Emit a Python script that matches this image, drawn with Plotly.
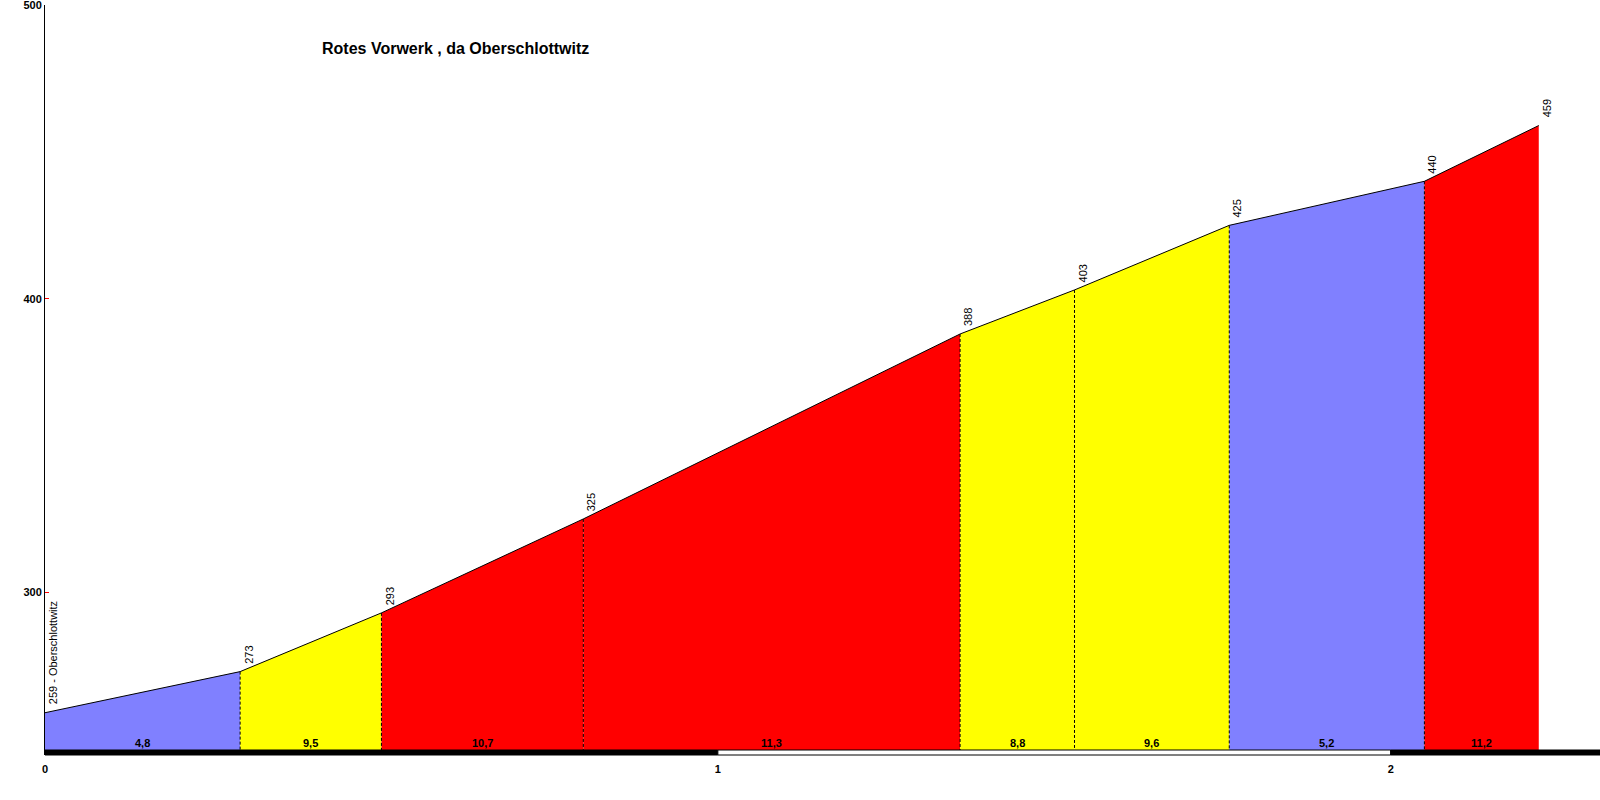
import plotly.graph_objects as go
import math

# ---- data ----
title_text = "Rotes Vorwerk , da Oberschlottwitz"
start_name = "Oberschlottwitz"
dist_km = [0.0, 0.29, 0.50, 0.80, 1.36, 1.53, 1.76, 2.05, 2.22]
elev_m = [259, 273, 293, 325, 388, 403, 425, 440, 459]
grad_labels = ["4,8", "9,5", "10,7", "11,3", "8,8", "9,6", "5,2", "11,2"]
x_ticks = [0, 1, 2]
y_ticks = [300, 400, 500]

# ---- styling / layout constants ----
X_MAX = 2.311
Y_MIN, Y_MAX = 244.6, 500.05
BASE = 246.3
FONT = "Liberation Sans, Arial, sans-serif"


def grad_color(g):
    v = float(g.replace(",", "."))
    if v < 7:
        return "#8080FF"
    if v < 10:
        return "#FFFF00"
    return "#FF0000"


fig = go.Figure()

# coloured segments
for i in range(len(dist_km) - 1):
    x0, x1 = dist_km[i], dist_km[i + 1]
    y0, y1 = elev_m[i], elev_m[i + 1]
    fig.add_trace(go.Scatter(
        x=[x0, x1, x1, x0, x0], y=[y0, y1, BASE, BASE, y0],
        mode="lines", fill="toself", fillcolor=grad_color(grad_labels[i]),
        line=dict(width=0), hoverinfo="skip", showlegend=False))

# profile line
fig.add_trace(go.Scatter(x=dist_km, y=elev_m, mode="lines",
                         line=dict(color="black", width=1),
                         hoverinfo="skip", showlegend=False))

# dashed separators
for i in range(1, len(dist_km) - 1):
    fig.add_trace(go.Scatter(x=[dist_km[i], dist_km[i]], y=[elev_m[i], BASE],
                             mode="lines", line=dict(color="black", width=1, dash="3px,2px"),
                             hoverinfo="skip", showlegend=False))

# distance scale bar
bar_h = 5 / 750
n = math.ceil(X_MAX)
for k in range(n):
    fig.add_shape(type="rect", xref="x", yref="paper",
                  x0=k, x1=min(k + 1, X_MAX), y0=0, y1=bar_h,
                  fillcolor="black" if k % 2 == 0 else "white",
                  line=dict(color="black", width=1), layer="above")

annotations = []
# elevation labels
for i, (d, e) in enumerate(zip(dist_km, elev_m)):
    txt = f"{e} - {start_name}" if i == 0 else str(e)
    annotations.append(dict(x=d, y=e, xref="x", yref="y", text=txt, textangle=-90,
                            showarrow=False, xanchor="left", yanchor="bottom",
                            xshift=1, yshift=7, borderpad=0,
                            font=dict(family=FONT, size=11, color="black")))
# gradient labels
for i, g in enumerate(grad_labels):
    annotations.append(dict(x=(dist_km[i] + dist_km[i + 1]) / 2, y=BASE, xref="x", yref="y",
                            text=f"<b>{g}</b>", showarrow=False, yanchor="bottom",
                            yshift=0, borderpad=0,
                            font=dict(family=FONT, size=11, color="black")))
# title
annotations.append(dict(x=(320 - 45) / 1555, y=(755 - 48) / 750, xref="paper", yref="paper",
                        text=f"<b>{title_text}</b>", showarrow=False,
                        xanchor="left", yanchor="middle",
                        font=dict(family=FONT, size=16, color="black")))

fig.update_layout(
    width=1600, height=800,
    margin=dict(l=45, r=0, t=5, b=45, autoexpand=False),
    paper_bgcolor="white", plot_bgcolor="white",
    annotations=annotations,
    xaxis=dict(range=[0, X_MAX], tickvals=x_ticks, ticktext=[f"<b>{t}</b>" for t in x_ticks],
               showgrid=False, zeroline=False, showline=False, automargin=False,
               ticks="outside", ticklen=4, tickcolor="rgba(0,0,0,0)",
               ticklabeloverflow="allow",
               tickfont=dict(family=FONT, size=11, color="black")),
    yaxis=dict(range=[Y_MIN, Y_MAX], tickvals=y_ticks, ticktext=[f"<b>{t}</b>" for t in y_ticks],
               showgrid=False, zeroline=False, showline=True, linecolor="black", linewidth=1,
               ticks="inside", ticklen=4, tickcolor="red", automargin=False,
               ticklabeloverflow="allow",
               tickfont=dict(family=FONT, size=11, color="black")),
)

fig.write_html("out.html", config={"displayModeBar": False},
               post_script="document.body.style.margin='0';document.body.style.overflow='hidden';")
